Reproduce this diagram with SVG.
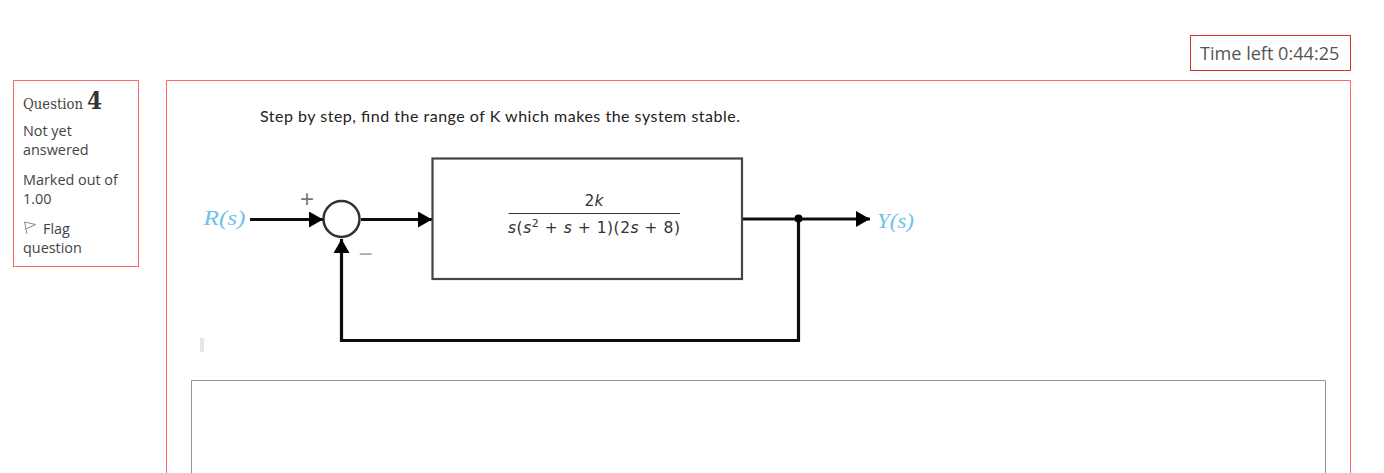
<svg xmlns="http://www.w3.org/2000/svg" width="1384" height="473" viewBox="0 0 1384 473">
<style>
.frame{fill:none;stroke:#ff6666;stroke-width:1}
.side{font-family:"Open Sans",sans-serif;font-size:14.4px;fill:#444}
.wire{fill:none;stroke:#111;stroke-width:3.2}
.blockline{fill:none;stroke:#444;stroke-width:2.2}
.sig{font-family:"Liberation Serif",serif;font-style:italic;font-size:20px;fill:#6cc3e8}
.math{font-family:"DejaVu Sans",sans-serif;font-size:15.5px;fill:#333}
</style>
<defs>
<marker id="arrow" markerUnits="userSpaceOnUse" markerWidth="14" markerHeight="16" refX="14" refY="8" orient="auto"><path d="M0 0L14 8L0 16Z" fill="#000"/></marker>
<filter id="soft" x="-5%" y="-5%" width="110%" height="110%"><feGaussianBlur stdDeviation="0.45"/></filter>
</defs>
<rect width="1384" height="473" fill="#fff"/>
<g id="timer">
<rect x="1190.5" y="35.5" width="160" height="35" fill="none" stroke="#d0331f" stroke-width="1"/>
<text x="1200" y="59.500" font-family="'Open Sans',sans-serif" font-size="18.100px" fill="#555">Time left 0:44:25</text>
</g>
<g id="question-info">
<rect class="frame" x="13.500" y="80.500" width="125" height="186"/>
<text x="23" y="108.500" font-family="'DejaVu Serif Condensed','DejaVu Serif',serif" font-size="14px" fill="#444" textLength="60" lengthAdjust="spacingAndGlyphs">Question</text>
<text x="87" y="109" font-family="'DejaVu Serif Condensed','DejaVu Serif',serif" font-size="24px" font-weight="bold" fill="#333">4</text>
<text class="side" x="23" y="136">Not yet</text>
<text class="side" x="23" y="155">answered</text>
<text class="side" x="23" y="185">Marked out of</text>
<text class="side" x="23" y="204">1.00</text>
<path d="M27 234L24.500 222L35.500 224.500L26 229" fill="none" stroke="#888" stroke-width="1"/>
<text class="side" x="43" y="234">Flag</text>
<text class="side" x="23" y="253">question</text>
</g>
<g id="question-panel">
<path class="frame" d="M166.500 473V80.500H1350.500V473"/>
<text x="260" y="122" font-family="Lato,sans-serif" font-size="16px" fill="#222" textLength="480" lengthAdjust="spacing">Step by step, find the range of K which makes the system stable.</text>
<rect x="200" y="338" width="4" height="14" fill="#e6e6e6"/>
</g>
<g id="answer-box">
<path d="M191.500 473V380.500H1325.500V473" fill="none" stroke="#8f959e" stroke-width="1"/>
</g>
<g id="connectors" filter="url(#soft)">
<path class="wire" d="M250 219.500H323" marker-end="url(#arrow)"/>
<path class="wire" d="M361 219.500H432" marker-end="url(#arrow)"/>
<path class="wire" d="M743 219H870" marker-end="url(#arrow)"/>
<path class="wire" d="M798.500 219V340.500H341.500V239" marker-end="url(#arrow)"/>
<circle cx="798.500" cy="218.500" r="4" fill="#000"/>
</g>
<g id="summing-junction">
<circle cx="341.500" cy="219" r="18" fill="#fff" stroke="#333" stroke-width="2.500" filter="url(#soft)"/>
<text x="307" y="206.500" text-anchor="middle" font-family="'Liberation Sans',sans-serif" font-size="24px" fill="#777">+</text>
<text x="365.500" y="261.500" text-anchor="middle" font-family="'Liberation Sans',sans-serif" font-size="24px" fill="#aaa">−</text>
</g>
<g id="transfer-block">
<rect class="blockline" x="432.500" y="158.500" width="309.500" height="120.500" fill="#fff"/>
<text class="math" x="594" y="206" text-anchor="middle">2<tspan font-style="italic">k</tspan></text>
<path d="M508.500 213.500H680" stroke="#333" stroke-width="1.200"/>
<text class="math" x="594" y="233" text-anchor="middle" textLength="172" lengthAdjust="spacing"><tspan font-style="italic">s</tspan>(<tspan font-style="italic">s</tspan><tspan font-size="11px" dy="-6">2</tspan><tspan dy="6"> + </tspan><tspan font-style="italic">s</tspan> + 1)(2<tspan font-style="italic">s</tspan> + 8)</text>
</g>
<g id="input-label"><text class="sig" x="203.500" y="225" font-size="21px" textLength="42" lengthAdjust="spacingAndGlyphs">R(s)</text></g>
<g id="output-label"><text class="sig" x="877" y="228" textLength="37" lengthAdjust="spacingAndGlyphs">Y(s)</text></g>
</svg>
